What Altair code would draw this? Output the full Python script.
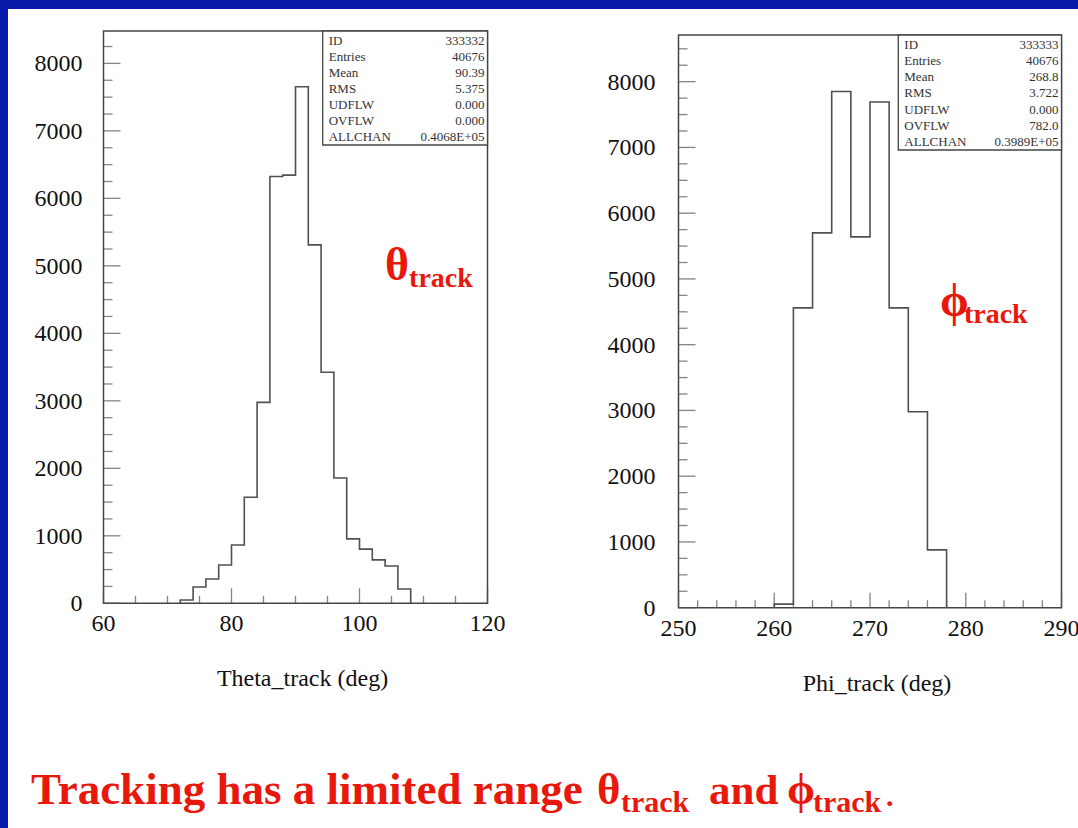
import altair as alt
import pandas as pd

# ---------------- data ----------------
# Theta_track histogram, 2-degree bins (lower edges + final upper edge)
theta_edges = [72, 74, 76, 78, 80, 82, 84, 86, 88, 90, 92, 94, 96, 98, 100, 102, 104, 106, 108]
theta_counts = [50, 241, 361, 567, 863, 1571, 2977, 6325, 6345, 7655, 5311, 3424, 1857, 954, 803, 643, 552, 211]

# Phi_track histogram, 2-degree bins
phi_edges = [260, 262, 264, 266, 268, 270, 272, 274, 276, 278]
phi_counts = [55, 4560, 5700, 7850, 5640, 7690, 4560, 2980, 880]

# statistics boxes
stat_names = ["ID", "Entries", "Mean", "RMS", "UDFLW", "OVFLW", "ALLCHAN"]
theta_stat_values = ["333332", "40676", "90.39", "5.375", "0.000", "0.000", "0.4068E+05"]
phi_stat_values = ["333333", "40676", "268.8", "3.722", "0.000", "782.0", "0.3989E+05"]

# axis ticks and labels
theta_x_major = [60, 80, 100, 120]
theta_x_minor = [65, 70, 75, 85, 90, 95, 105, 110, 115]
phi_x_major = [250, 260, 270, 280, 290]
phi_x_minor = [v for v in range(252, 290, 2) if v % 10]
y_major = [0, 1000, 2000, 3000, 4000, 5000, 6000, 7000, 8000]
theta_y_minor = [v for v in range(250, 8500, 250) if v % 1000]
phi_y_minor = [v for v in range(250, 8750, 250) if v % 1000]

# ---------------- style ----------------
SERIF = "Liberation Serif"
RED = "#e8180c"
BLUE = "#0818a8"
FRAME = "#444444"
LINE = "#505050"
ONE = pd.DataFrame({"k": [0]})


def panel(edges, counts, x_dom, x_rng, y_dom, y_rng, x_major, x_minor, y_minor,
          y_label_dx, x_title, symbol, sym_pos):
    sx = alt.Scale(domain=x_dom, range=x_rng, nice=False, zero=False)
    sy = alt.Scale(domain=y_dom, range=y_rng, nice=False, zero=False)

    def X(f):
        return alt.X(f, type="quantitative", scale=sx, axis=None)

    def Y(f):
        return alt.Y(f, type="quantitative", scale=sy, axis=None)

    # histogram outline drawn as a step curve
    xs = [edges[0]] + list(edges)
    ys = [0] + list(counts) + [0]
    steps = pd.DataFrame({"x": xs, "y": ys, "i": list(range(len(xs)))})
    hist = alt.Chart(steps).mark_line(
        interpolate="step-after", color=LINE, strokeWidth=1.6
    ).encode(x=X("x"), y=Y("y"), order=alt.Order("i:Q"))

    box = pd.DataFrame({"x0": [x_dom[0]], "x1": [x_dom[1]], "y0": [y_dom[0]], "y1": [y_dom[1]]})
    frame = alt.Chart(box).mark_rect(filled=False, color=FRAME, strokeWidth=1.5).encode(
        x=X("x0"), x2="x1", y=Y("y0"), y2="y1"
    )

    ymaj = pd.DataFrame({"x": x_dom[0], "y": y_major})
    ymin = pd.DataFrame({"x": x_dom[0], "y": y_minor})
    xmaj = pd.DataFrame({"x": x_major, "y": y_dom[0]})
    xmin = pd.DataFrame({"x": x_minor, "y": y_dom[0]})

    y_ticks_major = alt.Chart(ymaj).mark_tick(
        orient="horizontal", size=17, thickness=1.3, xOffset=8.5, color=LINE
    ).encode(x=X("x"), y=Y("y"))
    y_ticks_minor = alt.Chart(ymin).mark_tick(
        orient="horizontal", size=9, thickness=1.3, xOffset=4.5, color=LINE
    ).encode(x=X("x"), y=Y("y"))
    x_ticks_major = alt.Chart(xmaj).mark_tick(
        orient="vertical", size=15, thickness=1.3, yOffset=-7.5, color=LINE
    ).encode(x=X("x"), y=Y("y"))
    x_ticks_minor = alt.Chart(xmin).mark_tick(
        orient="vertical", size=7.5, thickness=1.3, yOffset=-3.75, color=LINE
    ).encode(x=X("x"), y=Y("y"))

    y_labels = alt.Chart(ymaj).mark_text(
        align="right", baseline="middle", dx=y_label_dx, dy=1,
        font=SERIF, fontSize=24, color="#111111"
    ).encode(x=X("x"), y=Y("y"), text=alt.Text("y:Q", format="d"))
    x_labels = alt.Chart(xmaj).mark_text(
        align="center", baseline="middle", dy=21,
        font=SERIF, fontSize=24, color="#111111"
    ).encode(x=X("x"), y=Y("y"), text=alt.Text("x:Q", format="d"))

    title_df = pd.DataFrame({"x": [(x_dom[0] + x_dom[1]) / 2], "y": [y_dom[0]], "t": [x_title]})
    x_title_mark = alt.Chart(title_df).mark_text(
        align="center", baseline="middle", dx=7, dy=76,
        font=SERIF, fontSize=24, color="#111111"
    ).encode(x=X("x"), y=Y("y"), text="t:N")

    sym_df = pd.DataFrame({"x": [sym_pos[0]], "y": [sym_pos[1]]})
    sym = alt.Chart(sym_df).mark_text(
        text=symbol, align="left", baseline="middle",
        font=SERIF, fontSize=46, fontWeight="bold", color=RED
    ).encode(x=X("x"), y=Y("y"))
    sub = alt.Chart(sym_df).mark_text(
        text="track", align="left", baseline="middle", dx=24, dy=13,
        font=SERIF, fontSize=28, fontWeight="bold", color=RED
    ).encode(x=X("x"), y=Y("y"))

    return alt.layer(frame, hist, y_ticks_major, y_ticks_minor, x_ticks_major,
                     x_ticks_minor, y_labels, x_labels, x_title_mark, sym, sub)


def stats_box(values, x_rng, y_rng):
    sx = alt.Scale(domain=[0, 1], range=x_rng, nice=False, zero=False)
    sy = alt.Scale(domain=[0, 7.125], range=y_rng, nice=False, zero=False)
    outline = pd.DataFrame({"x0": [0], "x1": [1], "y0": [0], "y1": [7.125]})
    rect = alt.Chart(outline).mark_rect(
        fill="white", stroke=FRAME, strokeWidth=1.3
    ).encode(
        x=alt.X("x0:Q", scale=sx, axis=None), x2="x1:Q",
        y=alt.Y("y0:Q", scale=sy, axis=None), y2="y1:Q",
    )
    rows = pd.DataFrame({"name": stat_names, "val": values,
                         "row": [i + 0.5 for i in range(len(stat_names))],
                         "l": 0, "r": 1})
    names = alt.Chart(rows).mark_text(
        align="left", baseline="middle", dx=6, dy=2,
        font=SERIF, fontSize=13, color="#333333"
    ).encode(x=alt.X("l:Q", scale=sx, axis=None),
             y=alt.Y("row:Q", scale=sy, axis=None), text="name:N")
    vals = alt.Chart(rows).mark_text(
        align="right", baseline="middle", dx=-3, dy=2,
        font=SERIF, fontSize=13, color="#333333"
    ).encode(x=alt.X("r:Q", scale=sx, axis=None),
             y=alt.Y("row:Q", scale=sy, axis=None), text="val:N")
    return alt.layer(rect, names, vals)


def caption(txt, x, y, size):
    return alt.Chart(ONE).mark_text(
        text=txt, align="left", baseline="alphabetic",
        font=SERIF, fontSize=size, fontWeight="bold", color=RED
    ).encode(x=alt.value(x), y=alt.value(y))


slide = alt.Chart(ONE).mark_rect(color="white").encode(
    x=alt.value(8), x2=alt.value(1078), y=alt.value(9), y2=alt.value(828)
)

theta_panel = panel(theta_edges, theta_counts, [60, 120], [103.5, 487.5], [0, 8480], [603.3, 31],
                    theta_x_major, theta_x_minor, theta_y_minor, -21,
                    "Theta_track (deg)", "θ", (104, 5000))
phi_panel = panel(phi_edges, phi_counts, [250, 290], [678.5, 1061.5], [0, 8710], [607.7, 35],
                  phi_x_major, phi_x_minor, phi_y_minor, -23,
                  "Phi_track (deg)", "ϕ", (277.3, 4650))

theta_stats = stats_box(theta_stat_values, [322.7, 487.5], [31, 145])
phi_stats = stats_box(phi_stat_values, [898.3, 1061.5], [35, 150])

# slide caption, with subscripted "track" pieces
title = alt.layer(
    caption("Tracking has a limited range", 31, 804, 45),
    caption("θ", 597, 804, 45),
    caption("track", 621, 812, 30),
    caption("and", 709, 804, 43),
    caption("ϕ", 787, 804, 45),
    caption("track", 813, 812, 30),
    caption(".", 886, 806, 30),
)

chart = alt.layer(
    slide, theta_panel, theta_stats, phi_panel, phi_stats, title
).resolve_scale(
    x="independent", y="independent"
).properties(
    width=1078, height=828, autosize="none", padding=0, background=BLUE
).configure_view(stroke=None)

chart.save("out.html", embed_options={"renderer": "svg", "actions": False})
